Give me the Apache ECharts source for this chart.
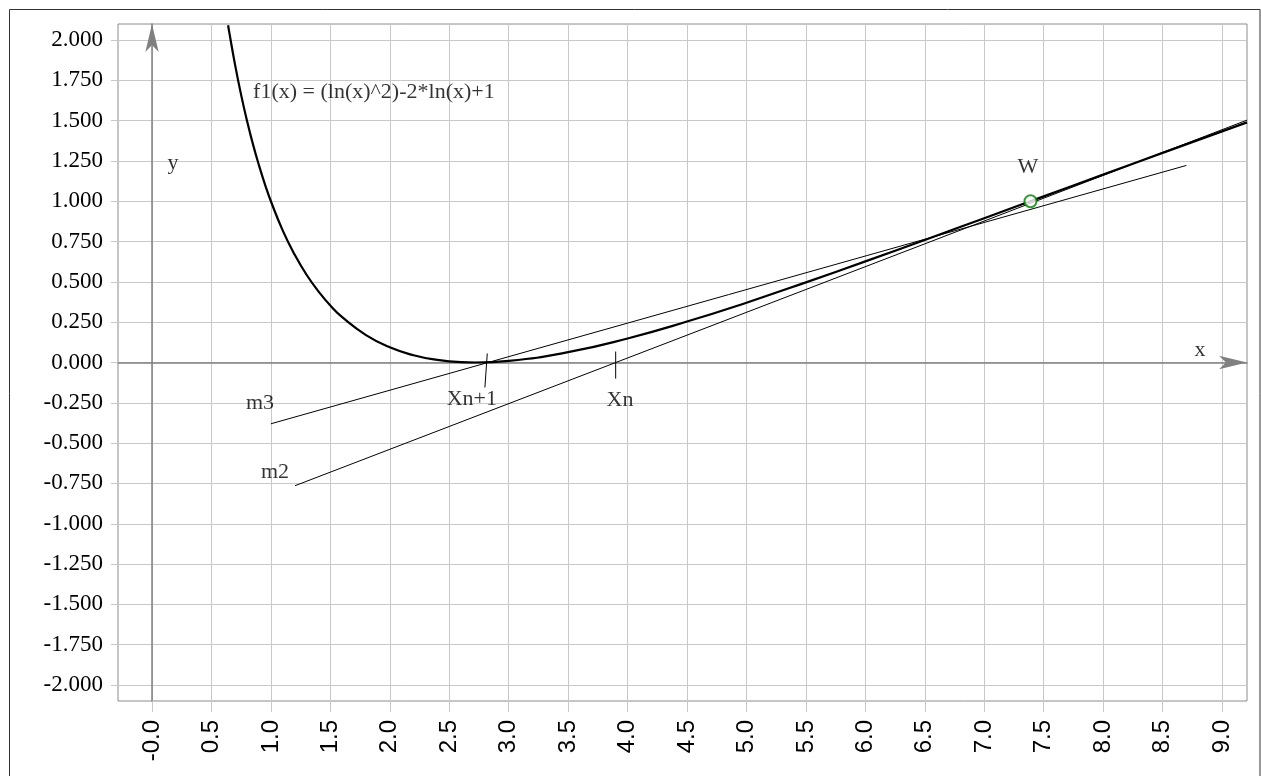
<!DOCTYPE html>
<html>
    <head>
        <meta charset="utf-8">
        <script src="https://cdn.jsdelivr.net/npm/echarts@6/dist/echarts.min.js"></script>
        <style>
            html, body { margin: 0; padding: 0; background: #fff; }
            #main { width: 1261px; height: 776px; }
        </style>
    </head>
    <body>
        <div id="main"></div>
        <script>
            // tick values of both axes
            var xTicks = [0, 0.5, 1, 1.5, 2, 2.5, 3, 3.5, 4, 4.5, 5, 5.5, 6, 6.5, 7, 7.5, 8, 8.5, 9];
            var yTicks = [-2, -1.75, -1.5, -1.25, -1, -0.75, -0.5, -0.25, 0, 0.25, 0.5, 0.75, 1, 1.25, 1.5, 1.75, 2];

            // f1(x)
            var curveX = [0.64, 0.65, 0.7, 0.75, 0.8, 0.85, 0.9, 0.95, 1.0, 1.1, 1.2, 1.3, 1.4, 1.5, 1.6, 1.8, 2.0, 2.2, 2.4, 2.6, 2.72, 3.0, 3.5, 4.0, 4.5, 5.0, 5.5, 6.0, 6.5, 7.0, 7.5, 8.0, 8.5, 9.0, 9.21];
            var curveY = [2.091, 2.047, 1.841, 1.658, 1.496, 1.351, 1.222, 1.105, 1.0, 0.818, 0.669, 0.544, 0.441, 0.353, 0.281, 0.170, 0.094, 0.045, 0.016, 0.002, 0.0, 0.010, 0.064, 0.149, 0.254, 0.371, 0.497, 0.627, 0.760, 0.895, 1.030, 1.165, 1.300, 1.433, 1.489];

            // straight lines (start, end)
            var m2Line = [[1.203, -0.764], [9.21, 1.503]];
            var m3Line = [[1.0, -0.38], [8.7, 1.222]];
            var xnTick = [[3.9, 0.068], [3.9, -0.10]];
            var xn1Tick = [[2.82, 0.056], [2.80, -0.155]];
            var pointW = [[7.389, 1.0]];

            // text notes: [x, y, text]
            var notes = [
                [0.177, 1.237, 'y'],
                [8.814, 0.078, 'x'],
                [7.367, 1.213, 'W'],
                [0.908, -0.25, 'm3'],
                [1.034, -0.678, 'm2'],
                [2.69, -0.226, 'Xn+1'],
                [3.936, -0.232, 'Xn']
            ];
            var formulaNote = [[0.85, 1.678, 'f1(x) = (ln(x)^2)-2*ln(x)+1']];

            var curve = curveX.map(function (x, i) { return [x, curveY[i]]; });

            var X_MIN = -0.286, X_MAX = 9.21, Y_MIN = -2.099, Y_MAX = 2.099;
            var serif = '"Liberation Serif", serif';

            function thinLine(data) {
                return {
                    type: 'line', data: data, showSymbol: false, symbol: 'none',
                    lineStyle: { color: '#000', width: 1 }, silent: true
                };
            }

            var chart = echarts.init(document.getElementById('main'));
            chart.setOption({
                animation: false,
                backgroundColor: '#fff',
                textStyle: { fontFamily: serif, color: '#000' },
                graphic: [{
                    type: 'rect',
                    shape: { x: 9.5, y: 9.5, width: 1250.5, height: 800 },
                    style: { fill: null, stroke: '#333', lineWidth: 1 },
                    z: -1
                }],
                grid: {
                    left: 118, right: 14, top: 24, bottom: 75,
                    show: true, borderColor: '#8c8c8c', borderWidth: 1,
                    backgroundColor: '#fff'
                },
                xAxis: [{
                    type: 'value', min: X_MIN, max: X_MAX, position: 'bottom',
                    axisLine: { show: false, onZero: false },
                    axisTick: { show: true, length: 11, customValues: xTicks, lineStyle: { color: '#c8c8c8' } },
                    axisLabel: {
                        customValues: xTicks, rotate: 90, margin: 19,
                        fontFamily: '"Liberation Sans", sans-serif', fontSize: 24, color: '#000',
                        formatter: function (v) { return v === 0 ? '-0.0' : v.toFixed(1); }
                    },
                    splitLine: { show: true, lineStyle: { color: '#c8c8c8', width: 1 } }
                }, {
                    type: 'value', min: X_MIN, max: X_MAX,
                    axisLine: {
                        show: true, onZero: true, onZeroAxisIndex: 0,
                        symbol: ['none', 'arrow'], symbolSize: [10, 28],
                        lineStyle: { color: '#808080', width: 1.5 }
                    },
                    axisTick: { show: false }, axisLabel: { show: false }, splitLine: { show: false }
                }],
                yAxis: [{
                    type: 'value', min: Y_MIN, max: Y_MAX, position: 'left',
                    axisLine: { show: false, onZero: false },
                    axisTick: { show: true, length: 7, customValues: yTicks, lineStyle: { color: '#c8c8c8' } },
                    axisLabel: {
                        customValues: yTicks, margin: 15,
                        fontFamily: serif, fontSize: 23, color: '#000',
                        formatter: function (v) { return v.toFixed(3); }
                    },
                    splitLine: { show: true, lineStyle: { color: '#c8c8c8', width: 1 } }
                }, {
                    type: 'value', min: Y_MIN, max: Y_MAX,
                    axisLine: {
                        show: true, onZero: true, onZeroAxisIndex: 0,
                        symbol: ['none', 'arrow'], symbolSize: [10, 28],
                        lineStyle: { color: '#808080', width: 1.5 }
                    },
                    axisTick: { show: false }, axisLabel: { show: false }, splitLine: { show: false }
                }],
                series: [
                    {
                        type: 'line', data: curve, smooth: true, showSymbol: false, symbol: 'none',
                        lineStyle: { color: '#000', width: 2.2 }, silent: true, z: 3
                    },
                    thinLine(m2Line),
                    thinLine(m3Line),
                    thinLine(xnTick),
                    thinLine(xn1Tick),
                    {
                        type: 'scatter', data: pointW, symbol: 'circle', symbolSize: 12,
                        itemStyle: { color: '#fff', borderColor: '#008000', borderWidth: 2 }, z: 5
                    },
                    {
                        type: 'scatter', data: notes, symbolSize: 0, silent: true,
                        label: {
                            show: true, position: 'inside', color: '#000',
                            fontFamily: serif, fontSize: 22,
                            formatter: function (p) { return p.data[2]; }
                        }
                    },
                    {
                        type: 'scatter', data: formulaNote, symbolSize: 0, silent: true,
                        label: {
                            show: true, position: 'right', distance: 0, color: '#000',
                            fontFamily: serif, fontSize: 22,
                            formatter: function (p) { return p.data[2]; }
                        }
                    }
                ]
            });
        </script>
    </body>
</html>
